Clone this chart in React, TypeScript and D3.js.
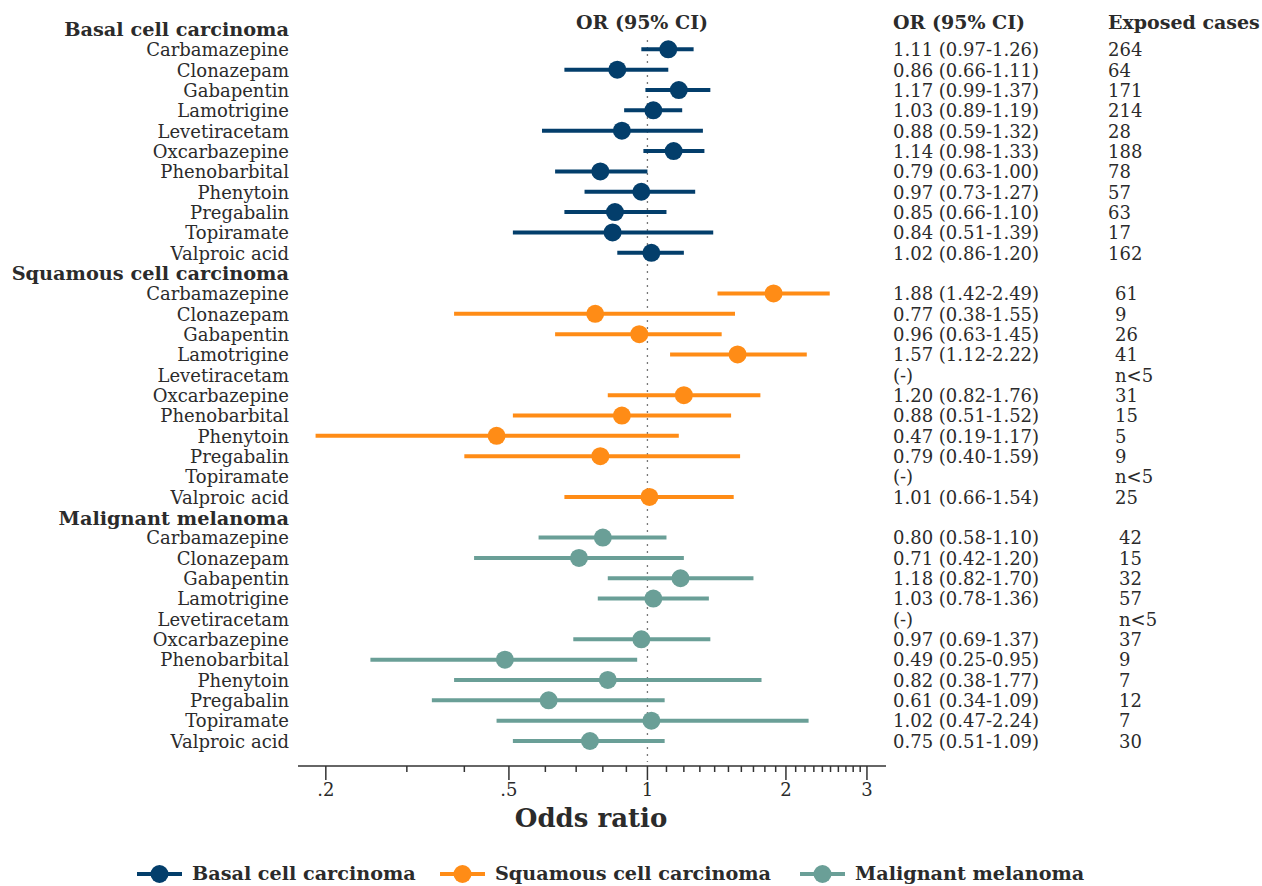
import * as d3 from "d3";
import { useEffect, useRef } from "react";

const groups = ["Basal cell carcinoma", "Squamous cell carcinoma", "Malignant melanoma"];
const colors = ["#033e6b", "#ff8c16", "#6a9f97"];
const drugs = [
    "Carbamazepine", "Clonazepam", "Gabapentin", "Lamotrigine", "Levetiracetam",
    "Oxcarbazepine", "Phenobarbital", "Phenytoin", "Pregabalin", "Topiramate", "Valproic acid",
];

// [OR, lower, upper] per drug, null when n<5
const basalOR = [
    [1.11, 0.97, 1.26], [0.86, 0.66, 1.11], [1.17, 0.99, 1.37], [1.03, 0.89, 1.19],
    [0.88, 0.59, 1.32], [1.14, 0.98, 1.33], [0.79, 0.63, 1.0], [0.97, 0.73, 1.27],
    [0.85, 0.66, 1.1], [0.84, 0.51, 1.39], [1.02, 0.86, 1.2],
];
const squamousOR = [
    [1.88, 1.42, 2.49], [0.77, 0.38, 1.55], [0.96, 0.63, 1.45], [1.57, 1.12, 2.22],
    null, [1.2, 0.82, 1.76], [0.88, 0.51, 1.52], [0.47, 0.19, 1.17],
    [0.79, 0.4, 1.59], null, [1.01, 0.66, 1.54],
];
const melanomaOR = [
    [0.8, 0.58, 1.1], [0.71, 0.42, 1.2], [1.18, 0.82, 1.7], [1.03, 0.78, 1.36],
    null, [0.97, 0.69, 1.37], [0.49, 0.25, 0.95], [0.82, 0.38, 1.77],
    [0.61, 0.34, 1.09], [1.02, 0.47, 2.24], [0.75, 0.51, 1.09],
];
const basalCases = ["264", "64", "171", "214", "28", "188", "78", "57", "63", "17", "162"];
const squamousCases = ["61", "9", "26", "41", "n<5", "31", "15", "5", "9", "n<5", "25"];
const melanomaCases = ["42", "15", "32", "57", "n<5", "37", "9", "7", "12", "7", "30"];

const majorTicks = [0.2, 0.5, 1, 2, 3];
const tickLabels = [".2", ".5", "1", "2", "3"];
const minorTicks = [0.3, 0.4, 0.6, 0.7, 0.8, 0.9, 1.1, 1.2, 1.3, 1.4, 1.5, 1.6, 1.7, 1.8, 1.9,
    2.1, 2.2, 2.3, 2.4, 2.5, 2.6, 2.7, 2.8, 2.9];

const W = 1262, H = 886;
const FONT = "'DejaVu Serif', serif";
const TEXT = "#2b2b2b";

const fmt = (v: number) => v.toFixed(2);

const App = () => {
    const svgRef = useRef<SVGSVGElement>(null);

    useEffect(() => {
        const svg = d3.select(svgRef.current).attr("width", W).attr("height", H);
        svg.selectAll("*").remove();

        const ors = [basalOR, squamousOR, melanomaOR];
        const cases = [basalCases, squamousCases, melanomaCases];
        const caseX = [1108, 1115, 1119];

        // rows: header + 11 drugs for each group
        const rows: any[] = [];
        groups.forEach((g, gi) => {
            rows.push({ key: `h${gi}`, header: true, label: g, gi });
            drugs.forEach((d, di) => {
                rows.push({ key: `${gi}-${di}`, header: false, label: d, gi, or: ors[gi][di], n: cases[gi][di] });
            });
        });

        const y = d3.scalePoint().domain(rows.map((r) => r.key)).range([29, 741]);
        const x = d3.scaleLog().domain([0.174, 3.3]).range([298, 886]);

        const g = svg.append("g").attr("font-family", FONT).attr("fill", TEXT);

        // reference line at 1
        g.append("line")
            .attr("x1", x(1)).attr("x2", x(1))
            .attr("y1", 40).attr("y2", 762)
            .attr("stroke", "#777").attr("stroke-width", 1.3)
            .attr("stroke-dasharray", "2,5");

        // row labels
        g.selectAll(".lbl")
            .data(rows)
            .join("text")
            .attr("class", "lbl")
            .attr("x", 289)
            .attr("y", (d) => y(d.key)!)
            .attr("dy", "0.38em")
            .attr("text-anchor", "end")
            .attr("font-size", (d) => (d.header ? 19.3 : 18))
            .attr("font-weight", (d) => (d.header ? "bold" : "normal"))
            .text((d) => d.label);

        const est = rows.filter((r) => !r.header);

        // CI text + cases
        g.selectAll(".ci")
            .data(est)
            .join("text")
            .attr("class", "ci")
            .attr("x", 893)
            .attr("y", (d) => y(d.key)!)
            .attr("dy", "0.38em")
            .attr("font-size", 18)
            .text((d) => (d.or ? `${fmt(d.or[0])} (${fmt(d.or[1])}-${fmt(d.or[2])})` : "(-)"));

        g.selectAll(".cases")
            .data(est)
            .join("text")
            .attr("class", "cases")
            .attr("x", (d) => caseX[d.gi])
            .attr("y", (d) => y(d.key)!)
            .attr("dy", "0.38em")
            .attr("font-size", 18)
            .text((d) => d.n);

        // headers
        const hdr = [
            { x: 642, anchor: "middle", t: "OR (95% CI)" },
            { x: 893, anchor: "start", t: "OR (95% CI)" },
            { x: 1108, anchor: "start", t: "Exposed cases" },
        ];
        g.selectAll(".hdr")
            .data(hdr)
            .join("text")
            .attr("class", "hdr")
            .attr("x", (d) => d.x)
            .attr("y", 22)
            .attr("dy", "0.38em")
            .attr("text-anchor", (d) => d.anchor)
            .attr("font-size", 19)
            .attr("font-weight", "bold")
            .text((d) => d.t);

        // CI lines and points
        const pts = est.filter((d) => d.or);
        g.selectAll(".ciline")
            .data(pts)
            .join("line")
            .attr("x1", (d) => x(d.or[1]))
            .attr("x2", (d) => x(d.or[2]))
            .attr("y1", (d) => y(d.key)!)
            .attr("y2", (d) => y(d.key)!)
            .attr("stroke", (d) => colors[d.gi])
            .attr("stroke-width", 4);
        g.selectAll(".pt")
            .data(pts)
            .join("circle")
            .attr("cx", (d) => x(d.or[0]))
            .attr("cy", (d) => y(d.key)!)
            .attr("r", 9)
            .attr("fill", (d) => colors[d.gi]);

        // axis
        const axisY = 766;
        const ax = g.append("g").attr("transform", `translate(0,${axisY})`);
        ax.append("line").attr("x1", 298).attr("x2", 886).attr("stroke", "#333").attr("stroke-width", 1.5);
        ax.selectAll(".mn")
            .data(minorTicks)
            .join("line")
            .attr("x1", (d) => x(d)).attr("x2", (d) => x(d))
            .attr("y1", 0).attr("y2", 6)
            .attr("stroke", "#333").attr("stroke-width", 1.5);
        ax.selectAll(".mj")
            .data(majorTicks)
            .join("line")
            .attr("x1", (d) => x(d)).attr("x2", (d) => x(d))
            .attr("y1", 0).attr("y2", 14)
            .attr("stroke", "#333").attr("stroke-width", 1.5);
        ax.selectAll(".tl")
            .data(majorTicks)
            .join("text")
            .attr("x", (d) => x(d))
            .attr("y", 30)
            .attr("text-anchor", "middle")
            .attr("font-size", 18)
            .text((d, i) => tickLabels[i]);

        g.append("text")
            .attr("x", 591)
            .attr("y", 827)
            .attr("text-anchor", "middle")
            .attr("font-size", 26)
            .attr("font-weight", "bold")
            .text("Odds ratio");

        // legend
        const legX = [137, 440, 800];
        const leg = g.selectAll(".leg")
            .data(groups)
            .join("g")
            .attr("transform", (d, i) => `translate(${legX[i]},874)`);
        leg.append("line")
            .attr("x1", 0).attr("x2", 45)
            .attr("stroke", (d, i) => colors[i]).attr("stroke-width", 4);
        leg.append("circle")
            .attr("cx", 22.5).attr("r", 9)
            .attr("fill", (d, i) => colors[i]);
        leg.append("text")
            .attr("x", 55)
            .attr("dy", "0.3em")
            .attr("font-size", 19.2)
            .attr("font-weight", "bold")
            .text((d) => d);
    }, []);

    return <svg ref={svgRef} style={{ position: "absolute", left: 0, top: 0, background: "#fff" }} />;
};

export default App;
